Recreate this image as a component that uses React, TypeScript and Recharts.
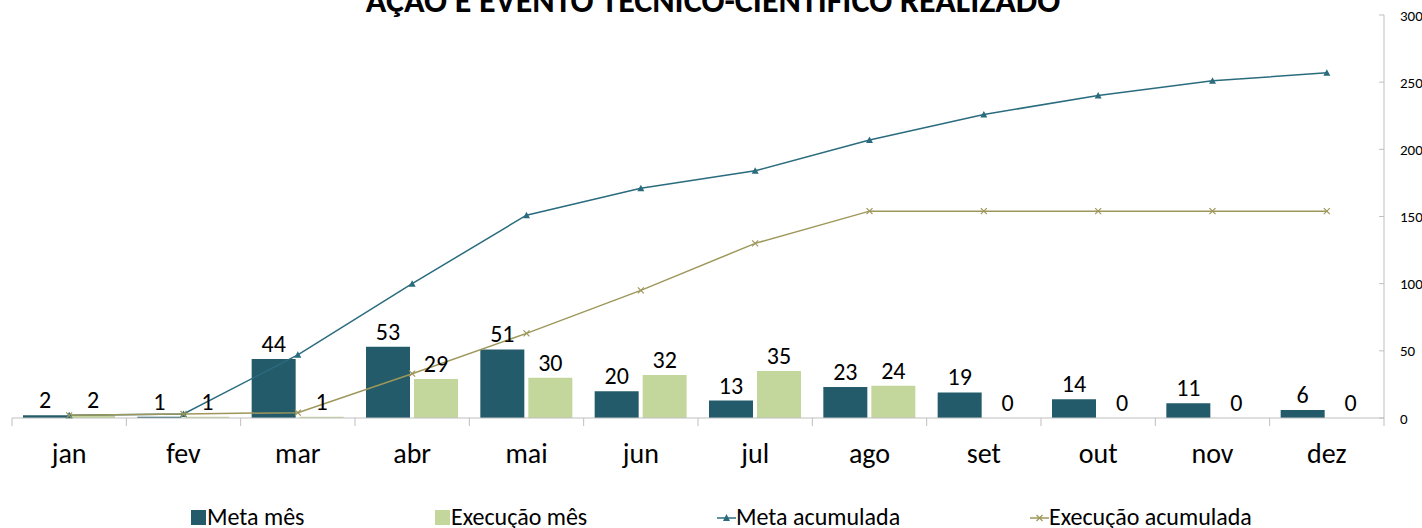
import React from 'react';
import { ComposedChart, Bar, Line, XAxis, YAxis, LabelList } from 'recharts';

const months = ['jan', 'fev', 'mar', 'abr', 'mai', 'jun', 'jul', 'ago', 'set', 'out', 'nov', 'dez'];
const metaMes = [2, 1, 44, 53, 51, 20, 13, 23, 19, 14, 11, 6];
const execucaoMes = [2, 1, 1, 29, 30, 32, 35, 24, 0, 0, 0, 0];
const metaAcumulada = [2, 3, 47, 100, 151, 171, 184, 207, 226, 240, 251, 257];
const execucaoAcumulada = [2, 3, 4, 33, 63, 95, 130, 154, 154, 154, 154, 154];
const yTicks = [0, 50, 100, 150, 200, 250, 300];
const title = 'AÇÃO E EVENTO TÉCNICO-CIENTÍFICO REALIZADO';

const data = months.map((m, i) => ({
  month: m,
  metaMes: metaMes[i],
  execucaoMes: execucaoMes[i],
  metaAcumulada: metaAcumulada[i],
  execucaoAcumulada: execucaoAcumulada[i],
}));

const W = 1422;
const H = 528;
const MARGIN = { top: 15, right: 0, left: 12, bottom: 80 };
const Y_W = 38;
const BAND = (W - MARGIN.left - MARGIN.right - Y_W) / months.length;
const BAR_W = 44;
const BAR_GAP = 4;

const FONT = 'Carlito, Calibri, Lato, sans-serif';
const C_META = '#235B6A';
const C_EXEC = '#C3D69B';
const C_META_LINE = '#2A6C7E';
const C_EXEC_LINE = '#9E975A';
const AXIS = '#BFBFBF';
const LABEL_SIZE = 24;

const XTick = (props: any) => {
  const { x, y, payload, index } = props;
  const last = index === months.length - 1;
  return (
    <g>
      <line x1={x - BAND / 2} x2={x - BAND / 2} y1={y} y2={y + 8} stroke={AXIS} strokeWidth={1} />
      {last && <line x1={x + BAND / 2} x2={x + BAND / 2} y1={y} y2={y + 8} stroke={AXIS} strokeWidth={1} />}
      <text x={x} y={y + 45} textAnchor="middle" fontSize={28} fontFamily={FONT} fill="#000">
        {payload.value}
      </text>
    </g>
  );
};

const YTick = (props: any) => {
  const { x, y, payload } = props;
  return (
    <g>
      <line x1={x - 5} x2={x} y1={y} y2={y} stroke={AXIS} strokeWidth={1} />
      <text x={x + 16} y={y + 5.5} textAnchor="start" fontSize={15} fontFamily={FONT} fill="#000">
        {payload.value}
      </text>
    </g>
  );
};

const MetaLabel = (props: any) => {
  const { x, y, width, height, value, index } = props;
  const execVal = index != null ? execucaoMes[index] : undefined;
  return (
    <g>
      <text x={x + width / 2} y={y - 7} textAnchor="middle" fontSize={LABEL_SIZE} fontFamily={FONT} fill="#000">
        {value}
      </text>
      {execVal === 0 && (
        <text
          x={x + width + BAR_GAP + width / 2}
          y={y + height - 7}
          textAnchor="middle"
          fontSize={LABEL_SIZE}
          fontFamily={FONT}
          fill="#000"
        >
          {execVal}
        </text>
      )}
    </g>
  );
};

const TriDot = (props: any) => {
  const { cx, cy } = props;
  if (cx == null || cy == null) return null;
  return <path d={`M${cx - 3.5},${cy + 3} L${cx + 3.5},${cy + 3} L${cx},${cy - 3.5} Z`} fill={C_META_LINE} />;
};

const XDot = (props: any) => {
  const { cx, cy } = props;
  if (cx == null || cy == null) return null;
  return (
    <g stroke={C_EXEC_LINE} strokeWidth={1.2}>
      <line x1={cx - 3} y1={cy - 3} x2={cx + 3} y2={cy + 3} />
      <line x1={cx - 3} y1={cy + 3} x2={cx + 3} y2={cy - 3} />
    </g>
  );
};

const legendItems = [
  { label: 'Meta mês', kind: 'bar', color: C_META, left: 191 },
  { label: 'Execução mês', kind: 'bar', color: C_EXEC, left: 435 },
  { label: 'Meta acumulada', kind: 'tri', color: C_META_LINE, left: 717 },
  { label: 'Execução acumulada', kind: 'x', color: C_EXEC_LINE, left: 1030 },
];

const LegendMarker = ({ kind, color }: { kind: string; color: string }) => {
  if (kind === 'bar') {
    return (
      <svg width={15} height={15} style={{ marginRight: 1 }}>
        <rect x={0} y={0} width={15} height={15} fill={color} />
      </svg>
    );
  }
  return (
    <svg width={19} height={15} style={{ marginRight: 0 }}>
      <line x1={0} x2={19} y1={8} y2={8} stroke={color} strokeWidth={1.5} />
      {kind === 'tri' ? (
        <path d="M6,11 L13,11 L9.5,4 Z" fill={color} />
      ) : (
        <g stroke={color} strokeWidth={1.2}>
          <line x1={6.5} y1={5} x2={12.5} y2={11} />
          <line x1={6.5} y1={11} x2={12.5} y2={5} />
        </g>
      )}
    </svg>
  );
};

export default function App() {
  return (
    <div style={{ position: 'absolute', left: 0, top: 0, width: W, height: H, background: '#fff', overflow: 'hidden' }}>
      <ComposedChart
        width={W}
        height={H}
        data={data}
        margin={MARGIN}
        barGap={BAR_GAP}
        barCategoryGap={22}
      >
        <XAxis
          dataKey="month"
          height={30}
          axisLine={{ stroke: AXIS }}
          tickLine={false}
          tickSize={0}
          tickMargin={0}
          tick={<XTick />}
          interval={0}
        />
        <YAxis
          orientation="right"
          width={Y_W}
          domain={[0, 300]}
          ticks={yTicks}
          axisLine={{ stroke: AXIS }}
          tickLine={false}
          tickSize={0}
          tickMargin={0}
          tick={<YTick />}
          interval={0}
        />
        <Bar dataKey="metaMes" fill={C_META} barSize={BAR_W} isAnimationActive={false}>
          <LabelList dataKey="metaMes" content={<MetaLabel />} />
        </Bar>
        <Bar dataKey="execucaoMes" fill={C_EXEC} barSize={BAR_W} isAnimationActive={false}>
          <LabelList dataKey="execucaoMes" position="top" offset={7} fill="#000" fontSize={LABEL_SIZE} fontFamily={FONT} />
        </Bar>
        <Line
          dataKey="metaAcumulada"
          stroke={C_META_LINE}
          strokeWidth={1.5}
          dot={<TriDot />}
          activeDot={false}
          isAnimationActive={false}
        />
        <Line
          dataKey="execucaoAcumulada"
          stroke={C_EXEC_LINE}
          strokeWidth={1.5}
          dot={<XDot />}
          activeDot={false}
          isAnimationActive={false}
        />
      </ComposedChart>
      <svg width={W} height={30} style={{ position: 'absolute', left: 0, top: 0, pointerEvents: 'none' }}>
        <text x={713} y={12} textAnchor="middle" fontSize={34} fontWeight="bold" fontFamily={FONT} fill="#000">
          {title}
        </text>
      </svg>
      {legendItems.map((it) => (
        <div
          key={it.label}
          style={{
            position: 'absolute',
            left: it.left,
            top: 504,
            display: 'flex',
            alignItems: 'center',
            fontFamily: FONT,
            fontSize: 24,
            lineHeight: '26px',
            color: '#000',
            whiteSpace: 'nowrap',
          }}
        >
          <LegendMarker kind={it.kind} color={it.color} />
          <span>{it.label}</span>
        </div>
      ))}
    </div>
  );
}
